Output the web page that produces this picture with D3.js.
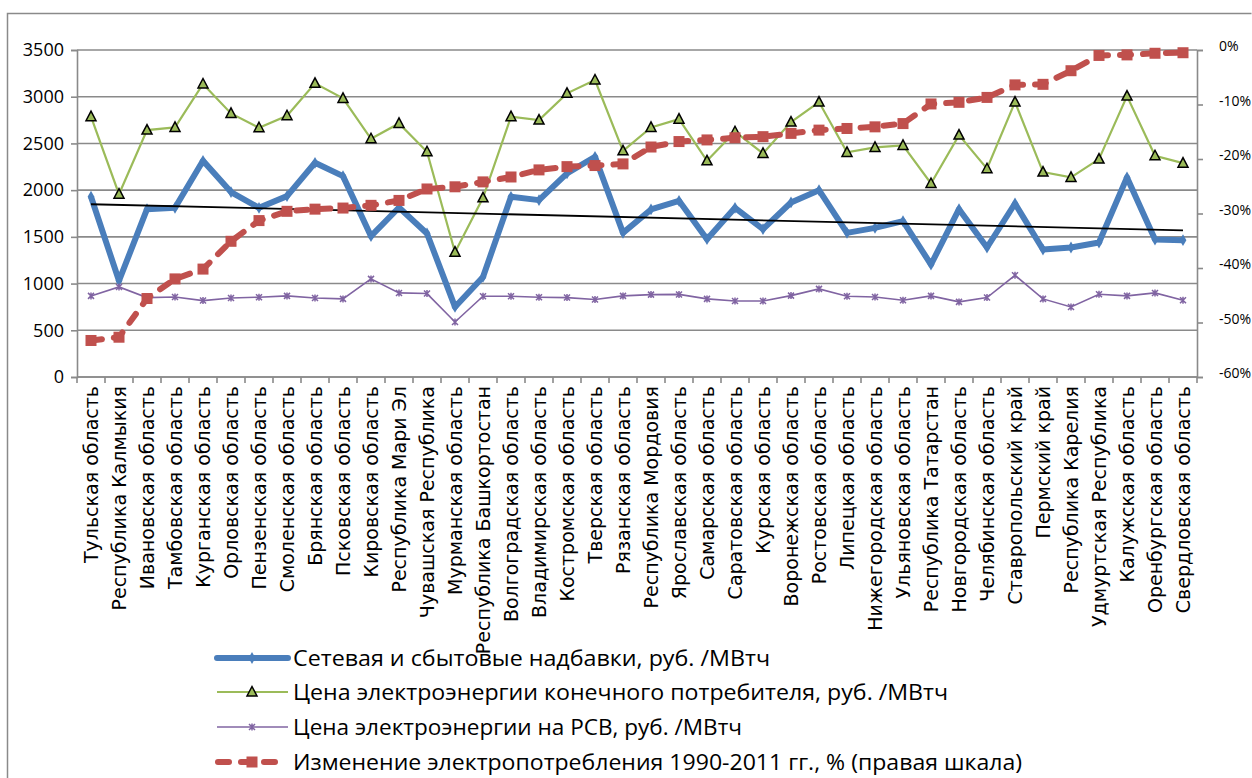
<!DOCTYPE html>
<html><head><meta charset="utf-8">
<script src="https://cdn.jsdelivr.net/npm/d3@7"></script>
<style>
html,body{margin:0;padding:0;background:#fff;}
svg{display:block;}
</style></head>
<body>
<svg id="c" width="1252" height="778"></svg>
<script>
const categories = ["Тульская область","Республика Калмыкия","Ивановская область","Тамбовская область","Курганская область","Орловская область","Пензенская область","Смоленская область","Брянская область","Псковская область","Кировская область","Республика Мари Эл","Чувашская Республика","Мурманская область","Республика Башкортостан","Волгоградская область","Владимирская область","Костромская область","Тверская область","Рязанская область","Республика Мордовия","Ярославская область","Самарская область","Саратовская область","Курская область","Воронежская область","Ростовская область","Липецкая область","Нижегородская область","Ульяновская область","Республика Татарстан","Новгородская область","Челябинская область","Ставропольский край","Пермский край","Республика Карелия","Удмуртская Республика","Калужская область","Оренбургская область","Свердловская область"];

const networkMarkup = [1930,1030,1796,1811,2314,1979,1811,1936,2293,2150,1507,1814,1536,750,1071,1929,1893,2179,2357,1543,1793,1886,1475,1811,1582,1868,2000,1543,1596,1668,1204,1796,1386,1857,1364,1386,1439,2136,1471,1464];
const finalPrice = [2786,1957,2643,2671,3136,2821,2668,2796,3143,2982,2550,2714,2411,1336,1918,2786,2750,3036,3179,2421,2671,2760,2314,2625,2393,2729,2943,2404,2457,2479,2071,2589,2229,2943,2193,2136,2332,3007,2368,2289];
const wholesalePrice = [868,964,850,857,818,846,854,868,846,836,1050,900,893,589,864,864,854,850,829,868,882,884,836,814,814,871,943,864,857,821,868,804,850,1089,836,750,886,868,900,821];
const consumptionChange = [-53.3,-52.7,-45.6,-42.0,-40.2,-35.1,-31.3,-29.6,-29.2,-29.0,-28.5,-27.6,-25.5,-25.1,-24.2,-23.3,-22.0,-21.4,-21.2,-20.9,-17.8,-16.8,-16.5,-16.1,-15.9,-15.3,-14.7,-14.4,-14.1,-13.5,-9.9,-9.6,-8.7,-6.4,-6.3,-3.8,-1.0,-0.9,-0.6,-0.5];

const leftTicks = [0,500,1000,1500,2000,2500,3000,3500];
const rightTicks = [0,-10,-20,-30,-40,-50,-60];
const legendLabels = [
  "Сетевая и сбытовые надбавки, руб. /МВтч",
  "Цена электроэнергии конечного потребителя, руб. /МВтч",
  "Цена электроэнергии на РСВ, руб. /МВтч",
  "Изменение электропотребления 1990-2011 гг., % (правая шкала)"
];

const C = {blue:"#4A7EBB", green:"#9BBB59", purple:"#8064A2", red:"#C0504D", grid:"#8a8a8a"};
const svg = d3.select("#c");

// frame
svg.append("path").attr("d","M7.5,790 L7.5,13.5 L1251.5,13.5")
  .attr("fill","none").attr("stroke","#8a8a8a").attr("stroke-width",1.5);

const L = 77, R = 1197, T = 50, B = 377;
const x = d3.scaleBand().domain(categories).range([L, R]).paddingInner(0).paddingOuter(0);
const cx = d => x(d) + x.bandwidth()/2;
const yL = d3.scaleLinear().domain([0,3500]).range([B,T]);
const yR = d3.scaleLinear().domain([-60,0]).range([B,T]);

// gridlines
svg.append("g").selectAll("line").data(leftTicks).join("line")
  .attr("x1",L).attr("x2",R).attr("y1",d=>yL(d)).attr("y2",d=>yL(d))
  .attr("stroke",C.grid).attr("stroke-width",1.6);

// left axis
const gL = svg.append("g").attr("transform",`translate(${L},0)`)
  .call(d3.axisLeft(yL).tickValues(leftTicks).tickSize(6).tickPadding(7).tickFormat(d3.format("d")));
gL.select(".domain").attr("stroke",C.grid).attr("stroke-width",1.6);
gL.selectAll(".tick line").attr("stroke",C.grid).attr("stroke-width",1.6);
gL.selectAll(".tick text").attr("font-family","'Open Sans', sans-serif").attr("font-size",18).attr("fill","#000");

// right axis
const gR = svg.append("g").attr("transform",`translate(${R},0)`)
  .call(d3.axisRight(yR).tickValues(rightTicks).tickSize(6).tickPadding(16).tickFormat(d=>d+"%"));
gR.select(".domain").attr("stroke",C.grid).attr("stroke-width",1.6);
gR.selectAll(".tick line").attr("stroke",C.grid).attr("stroke-width",1.6);
gR.selectAll(".tick text").attr("font-family","'Open Sans', sans-serif").attr("font-size",14).attr("fill","#000").attr("dy","0.05em");

// bottom axis
const gB = svg.append("g").attr("transform",`translate(0,${B})`);
gB.append("line").attr("x1",L).attr("x2",R).attr("stroke",C.grid).attr("stroke-width",1.6);
const bounds = categories.map(d=>x(d)).concat([R]);
gB.selectAll("line.t").data(bounds).join("line").attr("class","t")
  .attr("x1",d=>d).attr("x2",d=>d).attr("y1",0).attr("y2",6)
  .attr("stroke",C.grid).attr("stroke-width",1.6);
gB.selectAll("text").data(categories).join("text")
  .attr("transform",d=>`translate(${cx(d)+7},${9}) rotate(-90)`)
  .attr("text-anchor","end")
  .attr("font-family","'DejaVu Sans', sans-serif").attr("font-size",19).attr("fill","#000")
  .text(d=>d);

// series
const lineL = vals => d3.line().x((d,i)=>cx(categories[i])).y(d=>yL(d))(vals);
const lineR = vals => d3.line().x((d,i)=>cx(categories[i])).y(d=>yR(d))(vals);

// blue
svg.append("path").attr("d",lineL(networkMarkup)).attr("fill","none")
  .attr("stroke",C.blue).attr("stroke-width",6).attr("stroke-linejoin","round");
svg.append("g").selectAll("path").data(networkMarkup).join("path")
  .attr("transform",(d,i)=>`translate(${cx(categories[i])},${yL(d)})`)
  .attr("d",d3.symbol(d3.symbolDiamond,40)).attr("fill",C.blue);

// green
svg.append("path").attr("d",lineL(finalPrice)).attr("fill","none")
  .attr("stroke",C.green).attr("stroke-width",2.2);
const tri = "M0,-5.5L5,4L-5,4Z";
svg.append("g").selectAll("path").data(finalPrice).join("path")
  .attr("transform",(d,i)=>`translate(${cx(categories[i])},${yL(d)})`)
  .attr("d",tri).attr("fill",C.green).attr("stroke","#000").attr("stroke-width",1.5);

// purple
svg.append("path").attr("d",lineL(wholesalePrice)).attr("fill","none")
  .attr("stroke",C.purple).attr("stroke-width",1.6);
const star = "M-3,-3L3,3M-3,3L3,-3M0,-3.5L0,3.5";
svg.append("g").selectAll("path").data(wholesalePrice).join("path")
  .attr("transform",(d,i)=>`translate(${cx(categories[i])},${yL(d)})`)
  .attr("d",star).attr("fill","none").attr("stroke",C.purple).attr("stroke-width",1.5);

// trendline of blue (linear regression)
const n = networkMarkup.length;
const mx = (n-1)/2, my = d3.mean(networkMarkup);
let sxy=0, sxx=0;
networkMarkup.forEach((v,i)=>{sxy+=(i-mx)*(v-my); sxx+=(i-mx)*(i-mx);});
const slope = sxy/sxx, icpt = my - slope*mx;
svg.append("line")
  .attr("x1",cx(categories[0])).attr("y1",yL(icpt))
  .attr("x2",cx(categories[n-1])).attr("y2",yL(icpt+slope*(n-1)))
  .attr("stroke","#000").attr("stroke-width",1.8);

// red dashed (right axis)
svg.append("path").attr("d",lineR(consumptionChange)).attr("fill","none")
  .attr("stroke",C.red).attr("stroke-width",6).attr("stroke-dasharray","11,12").attr("stroke-linecap","round");
svg.append("g").selectAll("rect").data(consumptionChange).join("rect")
  .attr("x",(d,i)=>cx(categories[i])-5.5).attr("y",d=>yR(d)-5.5)
  .attr("width",11).attr("height",11).attr("fill",C.red);

// legend
const legY = [658,692,727,762];
const legW = [477,655,449,729];
const lg = svg.append("g");
legendLabels.forEach((lab,i)=>{
  const g = lg.append("g").attr("transform",`translate(0,${legY[i]})`);
  if(i===0){
    g.append("line").attr("x1",217).attr("x2",288).attr("stroke",C.blue).attr("stroke-width",6).attr("stroke-linecap","round");
    g.append("path").attr("transform","translate(252,0)").attr("d",d3.symbol(d3.symbolDiamond,40)).attr("fill",C.blue);
  } else if(i===1){
    g.append("line").attr("x1",217).attr("x2",288).attr("stroke",C.green).attr("stroke-width",2.2);
    g.append("path").attr("transform","translate(252,0)").attr("d",tri).attr("fill",C.green).attr("stroke","#000").attr("stroke-width",1.5);
  } else if(i===2){
    g.append("line").attr("x1",217).attr("x2",288).attr("stroke",C.purple).attr("stroke-width",1.6);
    g.append("path").attr("transform","translate(252,0)").attr("d",star).attr("fill","none").attr("stroke",C.purple).attr("stroke-width",1.5);
  } else {
    g.append("line").attr("x1",218).attr("x2",287).attr("stroke",C.red).attr("stroke-width",6).attr("stroke-dasharray","11,12").attr("stroke-linecap","round");
    g.append("rect").attr("x",246.5).attr("y",-5.5).attr("width",11).attr("height",11).attr("fill",C.red);
  }
  g.append("text").attr("x",293).attr("dy","0.36em")
    .attr("font-family","'Open Sans', sans-serif").attr("font-size",22).attr("fill","#000")
    .attr("textLength",legW[i]).attr("lengthAdjust","spacingAndGlyphs")
    .text(lab);
});
</script>
</body></html>
